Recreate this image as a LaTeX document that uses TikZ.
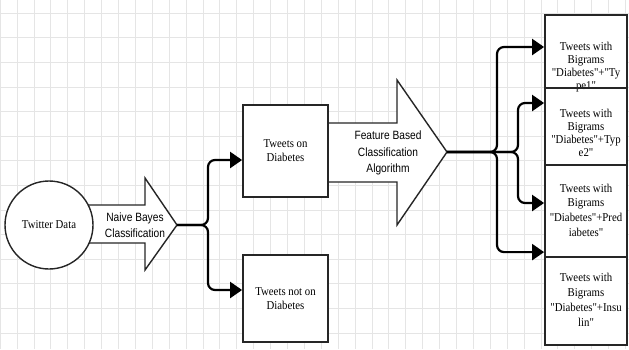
\documentclass[tikz,border=0pt]{standalone}
\usepackage{fontspec}
\defaultfontfeatures[\rmfamily,\sffamily]{}
\setmainfont{Liberation Serif}[FakeStretch=0.9]
\setsansfont{Liberation Sans}[FakeStretch=0.85]
\usetikzlibrary{arrows.meta}
\begin{document}
\begin{tikzpicture}[x=1pt,y=-1pt,
  gridline/.style={draw=black!10,line width=0.6pt},
  shapeline/.style={draw=black!85,line width=1.4pt,line join=miter},
  boxline/.style={draw=black!85,line width=1.8pt},
  serifText/.style={font=\fontsize{12}{14}\selectfont,align=center,inner sep=0pt},
  sansText/.style={font=\sffamily\fontsize{12}{15.5}\selectfont,align=center,inner sep=0pt},
  conn/.style={draw=black,line width=2.2pt,rounded corners=7pt,-{Triangle[length=12pt,width=16pt]}}
]
\useasboundingbox (0,0) rectangle (629,349);
\fill[white] (0,0) rectangle (629,349);
% grid
\foreach \i in {0,...,37} \draw[gridline] (\i*16.9,0) -- (\i*16.9,349);
\foreach \j in {0,...,14} \draw[gridline] (0,13+\j*24.6) -- (629,13+\j*24.6);

% first big arrow
\fill[white] (80,205) -- (145,205) -- (145,178) -- (177,225) -- (145,270) -- (145,243) -- (80,243) -- cycle;
\draw[shapeline] (80,205) -- (145,205) -- (145,178) -- (177,225) -- (145,270) -- (145,243) -- (80,243);
\coordinate (a1tip) at (177,225);
\node[sansText] (nb) at (135,225) {Naive Bayes\\Classification};

% circle
\node[circle,shapeline,fill=white,minimum size=88pt,inner sep=0pt,font=\fontsize{12}{14}\selectfont] (tw) at (49,225) {Twitter Data};

% second big arrow
\fill[white] (320,123) -- (397,123) -- (397,80) -- (447,152) -- (397,225) -- (397,182) -- (320,182) -- cycle;
\draw[shapeline] (320,123) -- (397,123) -- (397,80) -- (447,152) -- (397,225) -- (397,182) -- (320,182);
\coordinate (a2tip) at (447,152);
\node[sansText,font=\sffamily\fontsize{12}{16.5}\selectfont] (fb) at (388,153) {Feature Based\\Classification\\Algorithm};

% middle boxes
\node[boxline,fill=white,minimum width=85pt,minimum height=92pt,serifText] (tod) at (285.5,151) {Tweets on\\Diabetes};
\node[boxline,fill=white,minimum width=85pt,minimum height=87pt,serifText] (tnot) at (285.5,298.5) {Tweets not on\\Diabetes};

% right boxes
\fill[white] (545,15) rectangle (627,345);
\node[serifText,font=\fontsize{12}{13}\selectfont] (r1t) at (586,67) {Tweets with\\Bigrams\\"Diabetes"+"Ty\\pe1"};
\node[serifText,font=\fontsize{12}{13}\selectfont] (r2t) at (586,132.5) {Tweets with\\Bigrams\\"Diabetes"+Typ\\e2"};
\node[serifText,font=\fontsize{12}{14.7}\selectfont] (r3t) at (586,210) {Tweets with\\Bigrams\\"Diabetes"+Pred\\iabetes"};
\node[serifText,font=\fontsize{12}{14.8}\selectfont] (r4t) at (586,300) {Tweets with\\Bigrams\\"Diabetes"+Insu\\lin"};
\node[boxline,minimum width=82pt,minimum height=73pt,inner sep=0pt] (r1) at (586,51.5) {};
\node[boxline,minimum width=82pt,minimum height=77pt,inner sep=0pt] (r2) at (586,126.5) {};
\node[boxline,minimum width=82pt,minimum height=92pt,inner sep=0pt] (r3) at (586,211) {};
\node[boxline,minimum width=82pt,minimum height=88pt,inner sep=0pt] (r4) at (586,301) {};

% junctions
\coordinate (j1) at (208,225);
\coordinate (j2) at (497,152);
\coordinate (j3) at (518,152);

% connectors
\draw[conn] (a1tip) -- (j1) |- ([yshift=-9pt]tod.west);
\draw[conn] (a1tip) -- (j1) |- ([yshift=8.5pt]tnot.west);
\draw[conn] (a2tip) -- (j2) |- ([yshift=4.5pt]r1.west);
\draw[conn] (a2tip) -- (j3) |- ([yshift=23.5pt]r2.west);
\draw[conn] (a2tip) -- (j3) |- ([yshift=8pt]r3.west);
\draw[conn] (a2tip) -- (j2) |- ([yshift=4pt]r4.north west);
\end{tikzpicture}
\end{document}
